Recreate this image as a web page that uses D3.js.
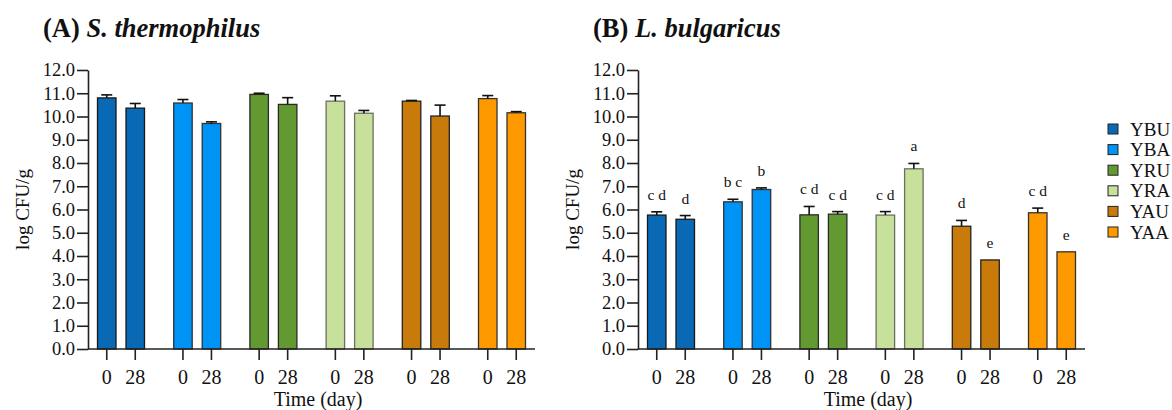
<!DOCTYPE html>
<html>
<head>
<meta charset="utf-8">
<script src="https://cdn.jsdelivr.net/npm/d3@7"></script>
<style>
  body { margin: 0; background: #fff; }
  svg text { font-family: "Liberation Serif", "Times New Roman", serif; fill: #111; }
</style>
</head>
<body>
<svg id="chart" width="1172" height="410"></svg>
<script>
// --- data ---
const groups = ["YBU", "YBA", "YRU", "YRA", "YAU", "YAA"];
const days = ["0", "28"];
const fills = ["#0a69b5", "#0093f6", "#629a31", "#c7e09b", "#c87a0b", "#fe9900"];
const strokes = ["#1a1a1a", "#333", "#2a2a2a", "#6b7060", "#222", "#333"];
const yTicks = [0, 1, 2, 3, 4, 5, 6, 7, 8, 9, 10, 11, 12];

// S. thermophilus, order: group x day
const stMean = [10.80, 10.36, 10.58, 9.70, 10.95, 10.52, 10.66, 10.14, 10.66, 10.02, 10.77, 10.16];
const stErr  = [0.13, 0.20, 0.15, 0.07, 0.05, 0.29, 0.23, 0.12, 0.03, 0.47, 0.13, 0.05];
// L. bulgaricus
const lbMean = [5.76, 5.58, 6.33, 6.86, 5.77, 5.80, 5.76, 7.75, 5.28, 3.83, 5.86, 4.18];
const lbErr  = [0.14, 0.16, 0.11, 0.07, 0.36, 0.11, 0.15, 0.23, 0.25, 0, 0.20, 0];
const lbLetters = ["c d", "d", "b c", "b", "c d", "c d", "c d", "a", "d", "e", "c d", "e"];

const svg = d3.select("#chart");

const y = d3.scaleLinear().domain([0, 12]).range([349, 70]);
const axisLen = 447;
const barW = 18.5;

function drawPanel(axisX, mean, err, letters, title, species) {
  const g = svg.append("g");
  const gx = d3.scalePoint().domain(groups).range([axisX + 33, axisX + 414]);
  const dx = d3.scalePoint().domain(days).range([-14.25, 14.25]);

  // title
  const t = g.append("text")
    .attr("x", axisX - 45).attr("y", 37)
    .style("font-size", "26.5px").style("font-weight", "bold");
  t.append("tspan").text(title + " ");
  t.append("tspan").style("font-style", "italic").text(species);

  // bars
  const rows = [];
  groups.forEach((grp, gi) => days.forEach((d, di) => {
    const i = gi * 2 + di;
    rows.push({ grp, gi, d, m: mean[i], e: err[i], lab: letters ? letters[i] : null,
                cx: gx(grp) + dx(d) });
  }));

  g.selectAll(".bar").data(rows).join("rect")
    .attr("class", "bar")
    .attr("x", r => r.cx - barW / 2)
    .attr("width", barW)
    .attr("y", r => y(r.m))
    .attr("height", r => y(0) - y(r.m))
    .attr("fill", r => fills[r.gi])
    .attr("stroke", r => strokes[r.gi])
    .attr("stroke-width", 1.3);

  // error bars (upper only)
  const eb = g.selectAll(".err").data(rows.filter(r => r.e > 0)).join("g")
    .attr("stroke", "#111").attr("stroke-width", 1.6);
  eb.append("line")
    .attr("x1", r => r.cx).attr("x2", r => r.cx)
    .attr("y1", r => y(r.m)).attr("y2", r => y(r.m + r.e));
  eb.append("line")
    .attr("x1", r => r.cx - 5.5).attr("x2", r => r.cx + 5.5)
    .attr("y1", r => y(r.m + r.e)).attr("y2", r => y(r.m + r.e));

  if (letters) {
    g.selectAll(".lab").data(rows).join("text")
      .attr("x", r => r.cx)
      .attr("y", r => y(r.m + r.e) - 12)
      .attr("text-anchor", "middle")
      .style("font-size", "15.5px")
      .text(r => r.lab);
  }

  // y axis
  const ya = g.append("g")
    .attr("transform", `translate(${axisX},0)`)
    .call(d3.axisLeft(y).tickValues(yTicks).tickFormat(d3.format(".1f"))
      .tickSize(11).tickSizeOuter(0).tickPadding(2));
  ya.select(".domain").attr("stroke", "#222").attr("stroke-width", 1.6);
  ya.selectAll(".tick line").attr("stroke", "#222").attr("stroke-width", 1.6);
  ya.selectAll(".tick text")
    .style("font-family", "Liberation Serif, serif")
    .style("font-size", "18.5px").attr("fill", "#111");

  // x axis
  g.append("line")
    .attr("x1", axisX).attr("x2", axisX + axisLen)
    .attr("y1", y(0)).attr("y2", y(0))
    .attr("stroke", "#222").attr("stroke-width", 1.6);
  g.selectAll(".xt").data(rows).join("line")
    .attr("x1", r => r.cx).attr("x2", r => r.cx)
    .attr("y1", y(0)).attr("y2", y(0) + 11)
    .attr("stroke", "#222").attr("stroke-width", 1.6);
  g.selectAll(".xl").data(rows).join("text")
    .attr("x", r => r.cx).attr("y", 383.5)
    .attr("text-anchor", "middle")
    .style("font-size", "20px")
    .text(r => r.d);

  g.append("text")
    .attr("x", axisX + 230).attr("y", 406)
    .attr("text-anchor", "middle")
    .style("font-size", "20px")
    .text("Time (day)");

  g.append("text")
    .attr("transform", `translate(${axisX - 66},${(y(0) + y(12)) / 2}) rotate(-90)`)
    .attr("text-anchor", "middle")
    .attr("dy", "0.35em")
    .style("font-size", "19px")
    .text("log CFU/g");
}

drawPanel(88, stMean, stErr, null, "(A)", "S. thermophilus");
drawPanel(638, lbMean, lbErr, lbLetters, "(B)", "L. bulgaricus");

// legend
const leg = svg.append("g").selectAll("g").data(groups).join("g")
  .attr("transform", (d, i) => `translate(1108,${129 + i * 20.6})`);
leg.append("rect")
  .attr("x", 0).attr("y", -5).attr("width", 10).attr("height", 10)
  .attr("fill", (d, i) => fills[i])
  .attr("stroke", "#222").attr("stroke-width", 1);
leg.append("text")
  .attr("x", 22).attr("dy", "0.35em")
  .style("font-size", "19px")
  .text(d => d);
</script>
</body>
</html>
